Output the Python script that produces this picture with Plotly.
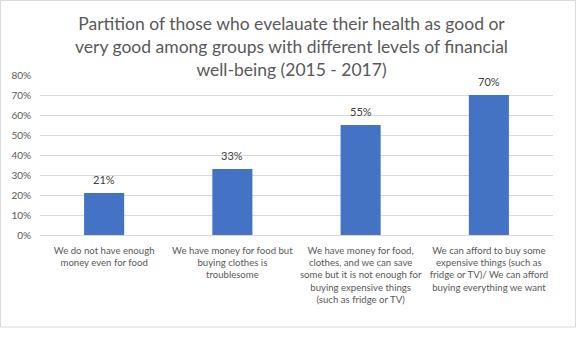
import plotly.graph_objects as go

categories = [
    "We do not have enough<br>money even for food",
    "We have money for food but<br>buying clothes is<br>troublesome",
    "We have money for food,<br>clothes, and we can save<br>some but it is not enough for<br>buying expensive things<br>(such as fridge or TV)",
    "We can afford to buy some<br>expensive things (such as<br>fridge or TV)/ We can afford<br>buying everything we want",
]
values = [0.21, 0.33, 0.55, 0.70]
value_labels = ["21%", "33%", "55%", "70%"]
y_ticks = [0, 0.1, 0.2, 0.3, 0.4, 0.5, 0.6, 0.7, 0.8]
y_ticktext = ["0%", "10%", "20%", "30%", "40%", "50%", "60%", "70%", "80%"]

title = ("Partition of those who evelauate their health as good or<br>"
         "very good among groups with different levels of financial<br>"
         "well-being (2015 - 2017)")

FONT = "Lato, Open Sans, sans-serif"

fig = go.Figure(go.Bar(
    x=categories, y=values,
    marker=dict(color="#4472C4", line=dict(width=0)),
    cliponaxis=False,
))

for cat, val, lab in zip(categories, values, value_labels):
    fig.add_annotation(
        x=cat, y=val, text=lab, xref="x", yref="y",
        xanchor="center", yanchor="bottom", yshift=5, showarrow=False,
        font=dict(size=11, color="#404040", family=FONT),
    )

W, H = 585, 337
L, R, T, B = 40, 32, 75, 102
pw, ph = W - L - R, H - T - B

fig.update_layout(
    width=W, height=H,
    margin=dict(l=L, r=R, t=T, b=B),
    paper_bgcolor="white", plot_bgcolor="white",
    bargap=0.6875,
    showlegend=False,
    font=dict(family=FONT, color="#595959"),
)
fig.add_annotation(
    text=title, xref="paper", yref="paper",
    x=(291 - L) / pw, y=(H - B - 46) / ph,
    xanchor="center", yanchor="middle", showarrow=False,
    font=dict(size=17.5, color="#595959", family=FONT),
)
fig.update_yaxes(
    range=[0, 0.8], tickvals=y_ticks, ticktext=y_ticktext,
    showgrid=True, gridcolor="#D9D9D9", gridwidth=1,
    zeroline=False, showline=False, ticks="", ticklabelstandoff=8,
    tickfont=dict(size=10, color="#595959", family=FONT),
)
fig.update_xaxes(
    showline=True, linecolor="#D9D9D9", linewidth=1,
    ticks="", tickangle=0, ticklabelstandoff=6,
    tickfont=dict(size=9.6, color="#595959", family=FONT),
)

# outer chart border
fig.add_shape(type="rect", xref="paper", yref="paper",
              x0=(0.5 - L) / pw, x1=(575.5 - L) / pw,
              y0=(H - B - 327) / ph, y1=(H - B - 0.5) / ph,
              line=dict(color="#D9D9D9", width=1), fillcolor="rgba(0,0,0,0)",
              layer="below")

fig.write_html("out.html")
